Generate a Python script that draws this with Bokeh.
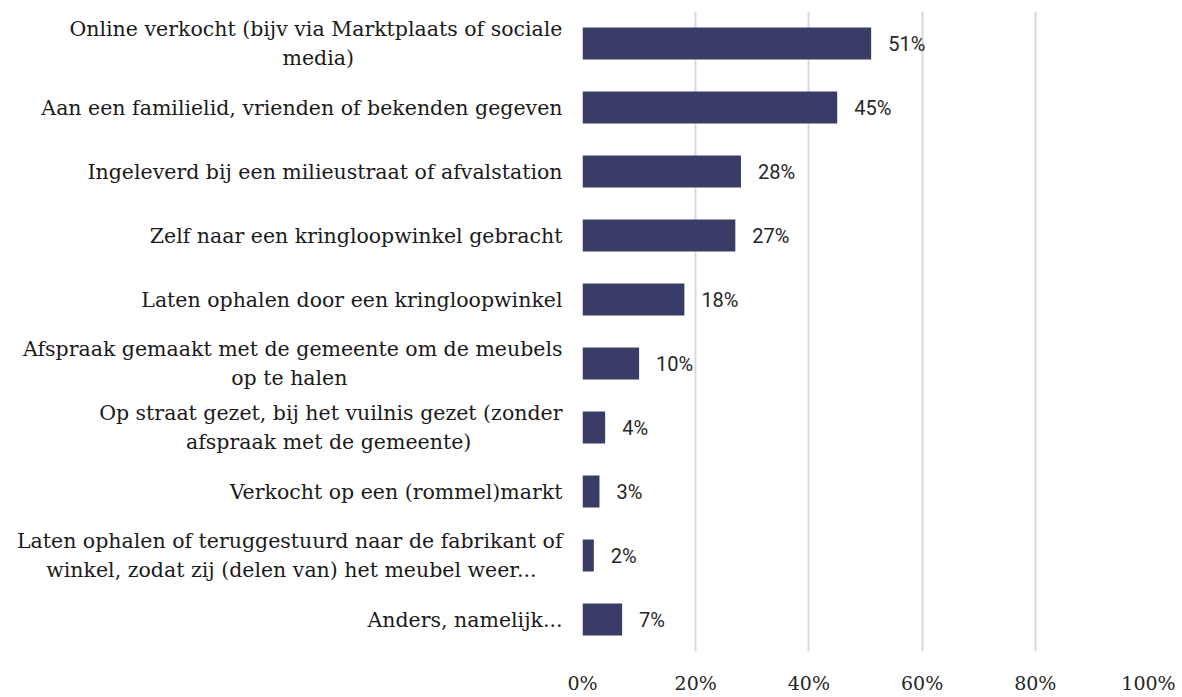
from bokeh.plotting import figure
from bokeh.models import FactorRange, Range1d, ColumnDataSource, FixedTicker, CustomJSTickFormatter
from bokeh.core.properties import value
from bokeh.embed import file_html
from bokeh.resources import INLINE

NB = "\u00a0"  # non-breaking space, used to centre the short second line of wrapped labels

categories = [
    "Online verkocht (bijv via Marktplaats of sociale\nmedia)" + NB * 32,
    "Aan een familielid, vrienden of bekenden gegeven",
    "Ingeleverd bij een milieustraat of afvalstation",
    "Zelf naar een kringloopwinkel gebracht",
    "Laten ophalen door een kringloopwinkel",
    "Afspraak gemaakt met de gemeente om de meubels\nop te halen" + NB * 33,
    "Op straat gezet, bij het vuilnis gezet (zonder\nafspraak met de gemeente)" + NB * 14,
    "Verkocht op een (rommel)markt",
    "Laten ophalen of teruggestuurd naar de fabrikant of\nwinkel, zodat zij (delen van) het meubel weer..." + NB * 4,
    "Anders, namelijk...",
]
values = [51, 45, 28, 27, 18, 10, 4, 3, 2, 7]
x_ticks = [0, 20, 40, 60, 80, 100]

src = ColumnDataSource(dict(
    cat=categories,
    val=values,
    lbl=[f"{v}%" for v in values],
))

p = figure(
    width=1176, height=696,
    y_range=FactorRange(*list(reversed(categories)), range_padding=0),
    x_range=Range1d(0, 100),
    output_backend="svg", toolbar_location=None,
    min_border_left=582, min_border_right=28, min_border_top=11, min_border_bottom=42,
)
p.outline_line_color = None
p.background_fill_color = "white"

p.hbar(y="cat", right="val", left=0, height=0.5, source=src,
       fill_color="#393c66", line_color=None)
p.text(x="val", y="cat", text="lbl", source=src, x_offset=17,
       text_baseline="middle", text_align="left",
       text_font=value("Roboto"), text_font_size="20px", text_color="#262626")

p.xaxis.ticker = FixedTicker(ticks=x_ticks)
p.xaxis.formatter = CustomJSTickFormatter(code="return tick + '%';")
p.xaxis.axis_line_color = None
p.xaxis.major_tick_line_color = None
p.xaxis.minor_tick_line_color = None
p.xaxis.major_label_standoff = 14
p.xaxis.major_label_text_font = "DejaVu Serif"
p.xaxis.major_label_text_font_size = "19px"
p.xaxis.major_label_text_color = "#262626"

p.yaxis.axis_line_color = None
p.yaxis.major_tick_line_color = None
p.yaxis.minor_tick_line_color = None
p.yaxis.major_label_standoff = 14
p.yaxis.major_label_text_font = "DejaVu Serif"
p.yaxis.major_label_text_font_size = "20.5px"
p.yaxis.major_label_text_color = "#1a1a1a"

p.ygrid.grid_line_color = None
p.xgrid.ticker = FixedTicker(ticks=x_ticks)
p.xgrid.grid_line_color = "#d9d9d9"
p.xgrid.grid_line_width = 2

open("out.html", "w").write(file_html(p, INLINE))
